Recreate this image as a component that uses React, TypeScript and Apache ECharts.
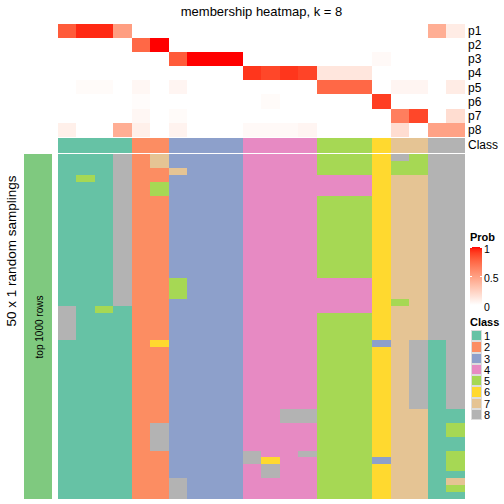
import React, { useEffect, useRef } from "react";
import * as echarts from "echarts";

// ---------- data ----------
const columns = ["c1","c2","c3","c4","c5","c6","c7","c8","c9","c10","c11","c12","c13","c14","c15","c16","c17","c18","c19","c20","c21","c22"];
const probRows = ["p1","p2","p3","p4","p5","p6","p7","p8"];
const p1 = [0.8,0.95,0.95,0.5,0,0,0,0,0,0,0,0,0,0,0,0,0,0,0,0,0.42,0.1];
const p2 = [0,0,0,0,0.75,1,0,0,0,0,0,0,0,0,0,0,0,0,0,0,0,0];
const p3 = [0,0,0,0,0,0,0.8,1,1,1,0,0,0,0,0,0,0,0.03,0,0,0,0];
const p4 = [0,0,0,0,0,0,0,0,0,0,0.92,0.87,0.92,0.88,0.13,0.13,0.13,0,0,0,0,0];
const p5 = [0,0.02,0.02,0,0.04,0,0.05,0,0,0,0,0,0,0,0.75,0.75,0.75,0,0.05,0.05,0,0.1];
const p6 = [0,0,0,0,0.015,0,0,0,0,0,0,0.02,0,0,0,0,0,0.9,0,0,0,0];
const p7 = [0,0,0,0,0.04,0,0.02,0,0,0,0,0,0,0,0,0,0,0,0.65,0.87,0,0.18];
const p8 = [0.08,0,0,0.42,0.08,0,0.06,0,0,0,0.03,0.03,0.03,0.05,0,0,0,0,0.18,0,0.48,0.48];
const probValues = [p1,p2,p3,p4,p5,p6,p7,p8];

const columnClass = [1,1,1,1,2,2,3,3,3,3,4,4,4,4,5,5,5,6,7,7,8,8];
const classLabels = ["1","2","3","4","5","6","7","8"];
const classColors = ["#66C2A5","#FC8D62","#8DA0CB","#E78AC3","#A6D854","#FFD92F","#E5C494","#B3B3B3"];

// 50 random samplings x 22 columns, each digit = class
const membership = [
  "1118273333444455568588",
  "1118273333444455565588",
  "1118227333444455565588",
  "1518223333444444467788",
  "1118253333444444467788",
  "1118253333444444467788",
  "1118223333444455567788",
  "1118223333444455567788",
  "1118223333444455567788",
  "1118223333444455567788",
  "1118223333444455567788",
  "1118223333444455567788",
  "1118223333444455567788",
  "1118223333444455567788",
  "1118223333444455567788",
  "1118223333444455567788",
  "1118223333444455567788",
  "1118223333444455567788",
  "1118225333444444467788",
  "1118225333444444467788",
  "1118225333444444467788",
  "1118223333444444465788",
  "8151223333444444467788",
  "8111223333444455567788",
  "8111223333444455567788",
  "8111223333444455567788",
  "8111223333444455567788",
  "1111263333444455537818",
  "1111223333444455567818",
  "1111223333444455567818",
  "1111223333444455567818",
  "1111223333444455567818",
  "1111223333444455567818",
  "1111223333444455567818",
  "1111223333444455567818",
  "1111223333444455567818",
  "1111223333444455567818",
  "1111223333448855567711",
  "1111223333448855567711",
  "1111283333444455567715",
  "1111283333444455567715",
  "1111283333444455567711",
  "1111283333444455567711",
  "1111223333844855567715",
  "1111223333864455537715",
  "1111223333484455567715",
  "1111223333484455567711",
  "1111228333444455567717",
  "1111228333444455567715",
  "1111228333444455567711",
];
const annotationLabel = "top 1000 rows";
const annotationColor = "#7FC97F";
const probTicks = [1, 0.5, 0];
const probTickLabels = ["1", "0.5", "0"];

// ---------- colour ramp (LAB, white -> red) ----------
function toLin(c: number) { c /= 255; return c <= 0.04045 ? c / 12.92 : Math.pow((c + 0.055) / 1.055, 2.4); }
function fromLin(c: number) { c = Math.max(0, Math.min(1, c)); const v = c <= 0.0031308 ? 12.92 * c : 1.055 * Math.pow(c, 1 / 2.4) - 0.055; return Math.round(Math.max(0, Math.min(1, v)) * 255); }
function rgb2lab(r: number, g: number, b: number) {
  const R = toLin(r), G = toLin(g), B = toLin(b);
  const X = (0.4124 * R + 0.3576 * G + 0.1805 * B) / 0.95047;
  const Y = 0.2126 * R + 0.7152 * G + 0.0722 * B;
  const Z = (0.0193 * R + 0.1192 * G + 0.9505 * B) / 1.08883;
  const f = (t: number) => (t > 0.008856 ? Math.cbrt(t) : 7.787 * t + 16 / 116);
  const fx = f(X), fy = f(Y), fz = f(Z);
  return [116 * fy - 16, 500 * (fx - fy), 200 * (fy - fz)];
}
function lab2rgb(L: number, a: number, b: number) {
  const fy = (L + 16) / 116, fx = fy + a / 500, fz = fy - b / 200;
  const fi = (t: number) => (t * t * t > 0.008856 ? t * t * t : (t - 16 / 116) / 7.787);
  const X = fi(fx) * 0.95047, Y = fi(fy), Z = fi(fz) * 1.08883;
  const R = 3.2406 * X - 1.5372 * Y - 0.4986 * Z;
  const G = -0.9689 * X + 1.8758 * Y + 0.0415 * Z;
  const B = 0.0557 * X - 0.204 * Y + 1.057 * Z;
  return `rgb(${fromLin(R)},${fromLin(G)},${fromLin(B)})`;
}
const LAB0 = rgb2lab(255, 255, 255);
const LAB1 = rgb2lab(255, 0, 0);
function ramp(t: number) {
  return lab2rgb(LAB0[0] + (LAB1[0] - LAB0[0]) * t, LAB0[1] + (LAB1[1] - LAB0[1]) * t, LAB0[2] + (LAB1[2] - LAB0[2]) * t);
}

const FONT = "'Liberation Sans', Arial, Helvetica, sans-serif";

export default function App() {
  const ref = useRef<HTMLDivElement>(null);
  useEffect(() => {
    document.body.style.margin = "0";
    const chart = echarts.init(ref.current!, undefined, { renderer: "svg" });

    const L = 58, R = 504 - 465;
    const probData: any[] = [];
    probValues.forEach((row, r) => row.forEach((v, c) => probData.push([c, r, v])));
    const classData = columnClass.map((k, c) => [c, 0, k]);
    const memData: any[] = [];
    membership.forEach((s, r) => s.split("").forEach((ch, c) => memData.push([c, r, parseInt(ch, 10)])));
    const rowIds = membership.map((_, i) => String(i + 1));

    const rampStops: string[] = [];
    for (let i = 0; i <= 40; i++) rampStops.push(ramp(i / 40));

    const hiddenX = (gi: number, data: string[]) => ({ type: "category", gridIndex: gi, data, show: false });
    const graphics: any[] = [];
    const txt = (x: number, y: number, text: string, fontSize: number, extra: any = {}, align = "center") => ({
      type: "text", x, y, z: 100, ...extra,
      style: { text, fontSize, fontFamily: FONT, fill: "#000", fontWeight: extra.bold ? "bold" : "normal", textAlign: align, textVerticalAlign: "middle", align, verticalAlign: "middle" },
    });
    graphics.push(txt(261.5, 11, "membership heatmap, k = 8", 13));
    graphics.push(txt(11, 251, "50 x 1 random samplings", 13.5, { rotation: Math.PI / 2 }));
    graphics.push(txt(39, 327, annotationLabel, 10, { rotation: Math.PI / 2 }));
    // Prob legend
    const gx = 470, gy = 247, gw = 12, gh = 58;
    graphics.push(txt(gx, 236.5, "Prob", 11, { bold: true }, "left"));
    const stops: any[] = [];
    for (let i = 0; i <= 20; i++) stops.push({ offset: i / 20, color: ramp(1 - i / 20) });
    graphics.push({ type: "rect", shape: { x: gx, y: gy, width: gw, height: gh }, style: { fill: new echarts.graphic.LinearGradient(0, 0, 0, 1, stops) } });
    probTicks.forEach((t, i) => {
      const y = gy + (1 - t) * gh;
      graphics.push({ type: "line", shape: { x1: gx, y1: y, x2: gx + 2, y2: y }, style: { stroke: "#fff", lineWidth: 1 } });
      graphics.push({ type: "line", shape: { x1: gx + gw - 2, y1: y, x2: gx + gw, y2: y }, style: { stroke: "#fff", lineWidth: 1 } });
      graphics.push(txt(gx + gw + 2, y + 2, probTickLabels[i], 10.5, {}, "left"));
    });
    // Class legend
    graphics.push(txt(gx, 322, "Class", 11, { bold: true }, "left"));
    classLabels.forEach((lab, i) => {
      const y = 330 + i * 11.25;
      graphics.push({ type: "rect", shape: { x: gx + 1, y: y + 0.5, width: 10, height: 10.25 }, style: { fill: classColors[i], stroke: "#dddddd", lineWidth: 1 } });
      graphics.push(txt(gx + gw + 2, y + 6, lab, 11, {}, "left"));
    });

    const rightLabel = { show: true, interval: 0, fontSize: 12, color: "#000", fontFamily: FONT, margin: 3 };
    chart.setOption({
      animation: false,
      backgroundColor: "#fff",
      textStyle: { fontFamily: FONT },
      grid: [
        { left: L, right: R, top: 24, height: 113 },
        { left: L, right: R, top: 138, height: 14.3 },
        { left: L, right: R, top: 154.7, height: 344.3 },
        { left: 24, width: 28, top: 154.7, height: 344.3 },
      ],
      xAxis: [hiddenX(0, columns), hiddenX(1, columns), hiddenX(2, columns), hiddenX(3, ["a"])],
      yAxis: [
        { type: "category", gridIndex: 0, data: probRows, inverse: true, position: "right", axisLine: { show: false }, axisTick: { show: false }, axisLabel: rightLabel },
        { type: "category", gridIndex: 1, data: ["Class"], position: "right", axisLine: { show: false }, axisTick: { show: false }, axisLabel: rightLabel },
        { type: "category", gridIndex: 2, data: rowIds, inverse: true, show: false },
        { type: "category", gridIndex: 3, data: ["a"], show: false },
      ],
      visualMap: [
        { type: "continuous", show: false, min: 0, max: 1, dimension: 2, seriesIndex: 0, inRange: { color: rampStops } },
        { type: "piecewise", show: false, dimension: 2, seriesIndex: [1, 2], pieces: classColors.map((c, i) => ({ value: i + 1, color: c })) },
        { type: "piecewise", show: false, dimension: 2, seriesIndex: 3, pieces: [{ value: 1, color: annotationColor }] },
      ],
      series: [
        { type: "heatmap", xAxisIndex: 0, yAxisIndex: 0, data: probData, emphasis: { disabled: true } },
        { type: "heatmap", xAxisIndex: 1, yAxisIndex: 1, data: classData, emphasis: { disabled: true } },
        { type: "heatmap", xAxisIndex: 2, yAxisIndex: 2, data: memData, emphasis: { disabled: true } },
        { type: "heatmap", xAxisIndex: 3, yAxisIndex: 3, data: [[0, 0, 1]], emphasis: { disabled: true } },
      ],
      graphic: graphics,
    });
    return () => chart.dispose();
  }, []);
  return (
    <>
      <style>{".hm-root svg path { shape-rendering: crispEdges; }"}</style>
      <div className="hm-root" ref={ref} style={{ position: "absolute", left: 0, top: 0, width: 504, height: 504 }} />
    </>
  );
}
